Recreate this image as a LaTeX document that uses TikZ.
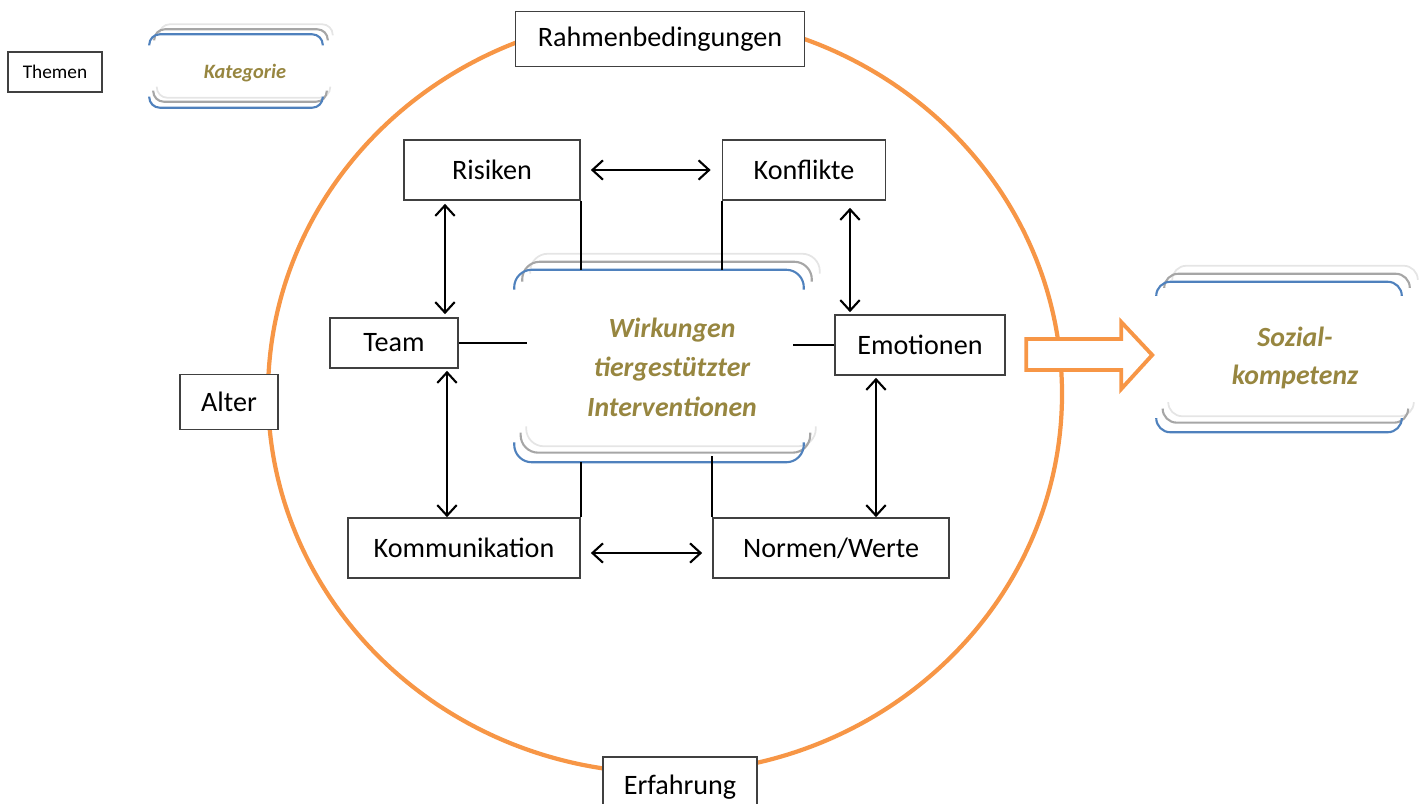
\documentclass[tikz,border=0pt]{standalone}
\usepackage{fontspec}
\setmainfont{Carlito}
\usepackage{tikz}
\usetikzlibrary{calc,arrows.meta}

\definecolor{kreisorange}{HTML}{F79646}
\definecolor{katblau}{HTML}{4F81BD}
\definecolor{katgrau}{HTML}{A6A6A6}
\definecolor{katoliv}{HTML}{978640}
\definecolor{rahmengrau}{HTML}{404040}

% Klammern einer Kategorie: #1 Knoten, #2 Schenkel (px), #3 Ecke, #4 Versatz (px)
\newcommand{\katrahmen}[4]{%
  \draw[black!10,line width=0.5pt,rounded corners=#3]
    ($(#1.north west)+({2*#4},{#2-2*#4})$) |- ($(#1.north)+({2*#4},{-2*#4})$) -| ($(#1.north east)+({2*#4},{#2-2*#4})$);
  \draw[black!10,line width=0.5pt,rounded corners=#3]
    ($(#1.south west)+({1.5*#4},{-#2-2*#4})$) |- ($(#1.south)+({1.5*#4},{-2*#4})$) -| ($(#1.south east)+({1.5*#4},{-#2-2*#4})$);
  \draw[katgrau,line width=0.6pt,rounded corners=#3]
    ($(#1.north west)+(#4,{#2-#4})$) |- ($(#1.north)+(#4,-#4)$) -| ($(#1.north east)+(#4,{#2-#4})$);
  \draw[katgrau,line width=0.6pt,rounded corners=#3]
    ($(#1.south west)+({0.8*#4},{-#2-1.2*#4})$) |- ($(#1.south)+({0.8*#4},{-1.2*#4})$) -| ($(#1.south east)+({0.8*#4},{-#2-1.2*#4})$);
  \draw[katblau,line width=0.6pt,rounded corners=#3]
    ($(#1.north west)+(0,#2)$) |- (#1.north) -| ($(#1.north east)+(0,#2)$);
  \draw[katblau,line width=0.6pt,rounded corners=#3]
    ($(#1.south west)+(0,-#2)$) |- (#1.south) -| ($(#1.south east)+(0,-#2)$);
}

\begin{document}
\begin{tikzpicture}[x=0.01cm,y=-0.01cm]
  \useasboundingbox (0,0) rectangle (1419,803);
  \tikzset{box/.style = {draw=rahmengrau, line width=0.45pt, fill=white, inner sep=0pt,
      font=\fontsize{8}{9.6}\selectfont}}
  \tikzset{kat/.style = {inner sep=0pt}}
  \tikzset{kattext/.style = {text=katoliv, align=center, inner sep=0pt}}
  \tikzset{pfeil/.style = {draw, line width=0.6pt,
      {Straight Barb[length=3pt,width=5.5pt]}-{Straight Barb[length=3pt,width=5.5pt]}}}
  \tikzset{linie/.style = {draw, line width=0.6pt}}

  % Kreis
  \draw[kreisorange, line width=1.2pt] (665,394) ellipse [x radius=397, y radius=379];

  % Legende
  \node[box, minimum width=0.94cm, minimum height=0.40cm, font=\fontsize{5.5}{6.6}\selectfont](themen) at (55,72) {Themen};
  \node[kat, minimum width=1.72cm, minimum height=0.72cm](kat) at (236,71) {};
  \katrahmen{kat}{11}{3pt}{5}
  \node[kattext, font=\fontsize{5.8}{7}\selectfont\bfseries\itshape](kattext) at (245,73) {Kategorie};

  % Rahmen
  \node[box, minimum width=2.89cm, minimum height=0.55cm](rahmen) at (660,39) {Rahmenbedingungen};
  \node[box, minimum width=0.98cm, minimum height=0.55cm](alter) at (229,402) {Alter};
  \node[box, minimum width=1.54cm, minimum height=0.60cm](erf) at (680,787) {Erfahrung};

  % Themen
  \node[box, minimum width=1.76cm, minimum height=0.60cm](ris) at (492,170) {Risiken};
  \node[box, minimum width=1.63cm, minimum height=0.60cm](kon) at (804,170) {Konflikte};
  \node[box, minimum width=1.28cm, minimum height=0.50cm](team) at (394,343) {Team};
  \node[box, minimum width=1.70cm, minimum height=0.60cm](emo) at (920,345) {Emotionen};
  \node[box, minimum width=2.32cm, minimum height=0.60cm](kom) at (464,548) {Kommunikation};
  \node[box, minimum width=2.36cm, minimum height=0.60cm](nor) at (831,548) {Normen/Werte};

  % Kategorien
  \node[kat, minimum width=2.88cm, minimum height=1.91cm](wti) at (659,366) {};
  \katrahmen{wti}{20}{5pt}{8}
  \node[kattext, font=\fontsize{7.9}{11.2}\selectfont\bfseries\itshape](wtitext) at (672,367)
    {Wirkungen\\tiergestützter\\Interventionen};
  \node[kat, minimum width=2.44cm, minimum height=1.49cm](soz) at (1279,357) {};
  \katrahmen{soz}{14}{4pt}{8}
  \node[kattext, font=\fontsize{7.9}{10.8}\selectfont\bfseries\itshape](soztext) at (1295,358)
    {Sozial-\\kompetenz};

  % Verbindungen
  \draw[linie] (ris.south east) -- (ris.south east |- wti.north);
  \draw[linie] (kon.south west) -- (kon.south west |- wti.north);
  \draw[linie] (team.east) -- ($(wti.west)+(13,-23)$);
  \draw[linie] (emo.west) -- ($(wti.east)+(-11,-21)$);
  \draw[linie] (kom.north east) -- (kom.north east |- wti.south);
  \draw[linie] (nor.north west) -- ($(nor.north west |- wti.south)+(0,-6)$);

  \draw[pfeil] ($(ris.east)+(10,0)$) -- ($(kon.west)+(-11,0)$);
  \draw[pfeil] ($(ris.south)+(-47,3)$) -- ($(team.north)+(51,-3)$);
  \draw[pfeil] ($(team.south)+(53,2)$) -- ($(kom.north)+(-17,0)$);
  \draw[pfeil] ($(kon.south)+(46,7)$) -- ($(emo.north)+(-70,-2)$);
  \draw[pfeil] ($(emo.south)+(-44,2)$) -- ($(nor.north)+(45,0)$);
  \draw[pfeil] ($(kom.east)+(10,5)$) -- ($(nor.west)+(-10,5)$);

  % Blockpfeil
  \draw[kreisorange, line width=1.1pt, fill=white]
    ($(soz.west)+(-4,-2)$) coordinate (spitze) -- ++(-31,-33) -- ++(0,17) -- ++(-95,0)
    -- ++(0,31) -- ++(95,0) -- ++(0,19) -- cycle;
\end{tikzpicture}
\end{document}
